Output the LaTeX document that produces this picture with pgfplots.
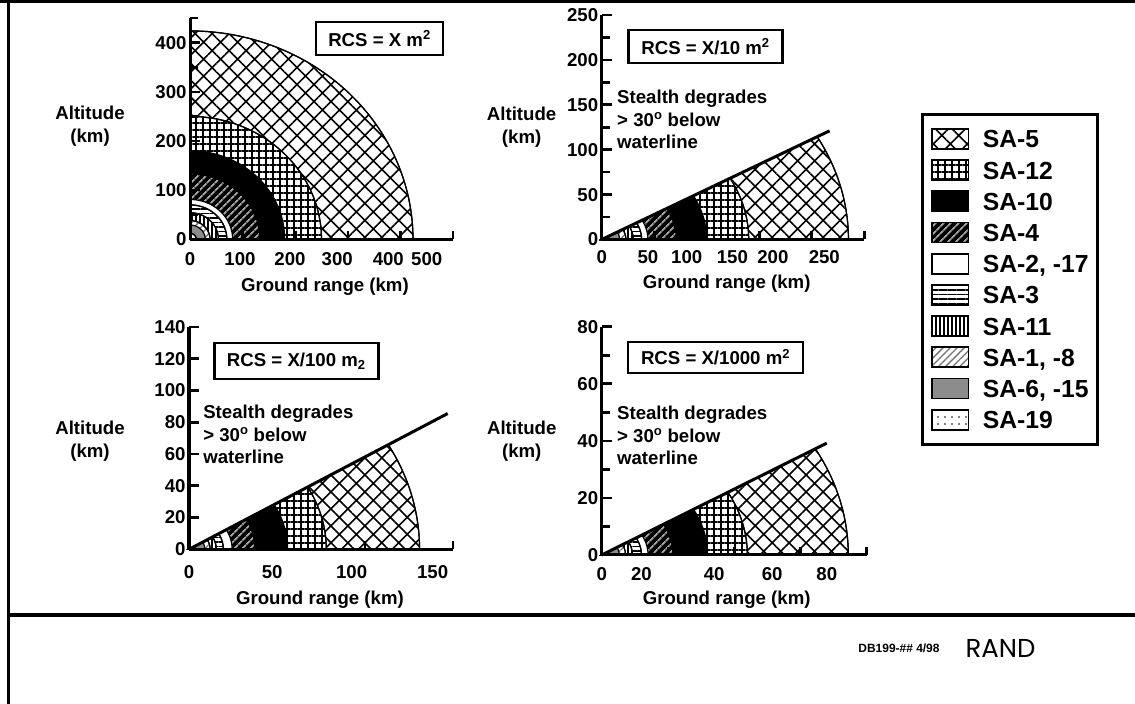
\documentclass[border=0pt]{standalone}
\usepackage{fontspec}
\setmainfont{Liberation Sans}
\newfontfamily\randfont{Poppins}
\usepackage{pgfplots}
\pgfplotsset{compat=1.18}
\usetikzlibrary{patterns.meta}

\newcommand\lblfont{\fontsize{18.7}{22.5}\selectfont\bfseries}

% fill styles of the SAM systems
\tikzset{
  sa5/.style={fill=white, postaction={pattern={Hatch[angle=45,distance=12bp,line width=1.6bp]}, pattern color=black}},
  sa12/.style={fill=white, postaction={pattern={Hatch[angle=0,distance=7bp,line width=2.8bp]}, pattern color=black}},
  sa10/.style={fill=black},
  sa4/.style={fill=black, postaction={pattern={Lines[angle=45,distance=6bp,line width=2bp]}, pattern color=black!35}},
  sa2/.style={fill=white},
  sa3/.style={fill=white, postaction={pattern={Lines[angle=0,distance=4.5bp,line width=1.5bp]}, pattern color=black}},
  sa11/.style={fill=white, postaction={pattern={Lines[angle=90,distance=4bp,line width=1.5bp]}, pattern color=black}},
  sa1/.style={fill=white, postaction={pattern={Lines[angle=45,distance=5bp,line width=1.3bp]}, pattern color=black!55}},
  sa6/.style={fill=black!45},
  sa19/.style={fill=white, postaction={pattern={Dots[distance=7bp,radius=0.9bp]}, pattern color=black}},
  rcsbox/.style={draw=black, line width=2.6bp, font=\lblfont, inner sep=0pt},
}

% coverage sector: radius, upper elevation angle, fill style
\newcommand\sector[3]{%
  \addplot[#3, draw=black, line width=1.2bp, domain=0:#2, samples=50, variable=\t]
    ({#1*cos(\t)}, {#1*sin(\t)}) -- (0,0) -- cycle;}

\pgfplotsset{
  panel/.style={
    anchor=south west, axis lines=left, axis line style={-, line width=3bp},
    axis on top, clip=false, enlargelimits=false,
    xmin=0, ymin=0,
    tick align=inside, tick style={black, line width=2.6bp},
    major tick length=10bp, minor tick length=8bp,
    major x tick style={draw=none},
    tick label style={font=\lblfont},
    /pgf/number format/assume math mode=true,
    every axis y label/.style={anchor=center, align=center, font=\lblfont},
    every axis x label/.style={anchor=center, font=\lblfont},
    xlabel={Ground range (km)}, ylabel={Altitude\\(km)},
  },
}

\begin{document}
\begin{tikzpicture}
\useasboundingbox (0bp,0bp) rectangle (1135bp,704bp);
\draw[line width=3bp] (0bp,702.6bp) -- (1135bp,702.6bp);
\draw[line width=3.3bp] (8.3bp,0bp) -- (8.3bp,704bp);
\draw[line width=3.3bp] (8.3bp,89bp) -- (1135bp,89bp);

% RCS = X
\begin{axis}[panel, at={(190bp,464.7bp)}, x=0.526bp, y=0.4915bp,
  xmax=500, ymax=450,
  xtick={0,95,190,280,377,450}, xticklabels={0,100,200,300,400,500},
  minor xtick={100,200,300,400,500},
  ytick={0,100,200,300,400}, minor ytick={50,150,250,350,450},
  xticklabel style={yshift=-10bp},
  xlabel style={at={(axis description cs:0.513,-0.216)}},
  ylabel style={at={(axis description cs:-0.380,0.512)}}]
\sector{424}{90}{sa5}
\sector{250}{90}{sa12}
\sector{180}{90}{sa10}
\sector{133}{90}{sa4}
\sector{81}{90}{sa2}
\sector{70}{90}{sa3}
\sector{54}{90}{sa11}
\sector{38}{90}{sa1}
\sector{29}{90}{sa6}
\sector{12}{90}{sa19}
\node[rcsbox, minimum width=127bp, minimum height=33bp] at (axis cs:360.3,408.5) {RCS = X m\textsuperscript{2}};
\end{axis}

% RCS = X/10
\begin{axis}[panel, at={(601.7bp,464.5bp)}, x=1.05bp, y=0.898bp,
  xmax=250, ymax=250,
  xtick={0,44,81,124.5,163,212}, xticklabels={0,50,100,150,200,250},
  minor xtick={50,100,150,200,250},
  ytick={0,50,100,150,200,250}, minor ytick={25,75,125,175,225},
  xticklabel style={yshift=-7bp},
  xlabel style={at={(axis description cs:0.476,-0.198)}},
  ylabel style={at={(axis description cs:-0.305,0.501)}},
  legend cell align=left,
  legend style={at={(1.2145,0.5640)}, anchor=north west, draw=black, line width=3bp, fill=white,
    inner xsep=8.9bp, inner ysep=13.6bp, row sep=9.4bp, column sep=13.4bp,
    font=\fontsize{24.8}{26}\selectfont\bfseries,
    nodes={inner sep=0pt, text height=18bp, text depth=0pt}},
  legend image code/.code={\draw[#1, line width=1.8bp] (0bp,-10bp) rectangle (36.7bp,10bp);}]
\sector{235}{29.14}{sa5}  \addlegendentry{SA-5}
\sector{140}{29.14}{sa12} \addlegendentry{SA-12}
\sector{100}{29.14}{sa10} \addlegendentry{SA-10}
\sector{71}{29.14}{sa4}   \addlegendentry{SA-4}
\sector{44}{29.14}{sa2}   \addlegendentry{SA-2, -17}
\sector{38}{29.14}{sa3}   \addlegendentry{SA-3}
\sector{30}{29.14}{sa11}  \addlegendentry{SA-11}
\sector{23}{29.14}{sa1}   \addlegendentry{SA-1, -8}
\sector{17}{29.14}{sa6}   \addlegendentry{SA-6, -15}
\sector{7}{29.14}{sa19}   \addlegendentry{SA-19}
\addplot[forget plot, black, line width=3bp] coordinates {(0,0) (217,121)};
\node[rcsbox, minimum width=154bp, minimum height=33bp] at (axis cs:98.9,214.7) {RCS = X/10 m\textsuperscript{2}};
\node[anchor=north west, align=left, inner sep=0pt, font=\lblfont] at (axis cs:14.6,166.5)
  {Stealth degrades\\> 30\textsuperscript{o} below\\waterline};
\end{axis}

% RCS = X/100
\begin{axis}[panel, at={(189bp,154.7bp)}, x=1.76bp, y=1.588bp,
  xmax=150, ymax=140,
  xtick={0,47.3,92.4,138.4}, xticklabels={0,50,100,150},
  minor xtick={50,100,150},
  ytick={0,20,40,60,80,100,120,140},
  xticklabel style={yshift=-13bp},
  xlabel style={at={(axis description cs:0.496,-0.227)}},
  ylabel style={at={(axis description cs:-0.375,0.487)}}]
\sector{131}{30.18}{sa5}
\sector{78}{30.18}{sa12}
\sector{56}{30.18}{sa10}
\sector{37.5}{30.18}{sa4}
\sector{24.5}{30.18}{sa2}
\sector{19.5}{30.18}{sa3}
\sector{15.5}{30.18}{sa11}
\sector{12}{30.18}{sa1}
\sector{9}{30.18}{sa6}
\sector{3.5}{30.18}{sa19}
\addplot[black, line width=3bp] coordinates {(0,0) (147,85.5)};
\node[rcsbox, minimum width=164bp, minimum height=36bp] at (axis cs:61,118.5) {RCS = X/100 m\textsubscript{2}};
\node[anchor=north west, align=left, inner sep=0pt, font=\lblfont] at (axis cs:8,90.9)
  {Stealth degrades\\> 30\textsuperscript{o} below\\waterline};
\end{axis}

% RCS = X/1000
\begin{axis}[panel, at={(601.7bp,149bp)}, x=3.31bp, y=2.854bp,
  xmax=80, ymax=80,
  xtick={0,12,34,51.5,68}, xticklabels={0,20,40,60,80},
  minor xtick={20,40,60,80},
  ytick={0,20,40,60,80}, minor ytick={10,30,50,70},
  xticklabel style={yshift=-9bp},
  xlabel style={at={(axis description cs:0.472,-0.197)}},
  ylabel style={at={(axis description cs:-0.302,0.499)}}]
\sector{74.5}{29.96}{sa5}
\sector{44}{29.96}{sa12}
\sector{32}{29.96}{sa10}
\sector{21.5}{29.96}{sa4}
\sector{14}{29.96}{sa2}
\sector{12}{29.96}{sa3}
\sector{9.3}{29.96}{sa11}
\sector{7.2}{29.96}{sa1}
\sector{5.3}{29.96}{sa6}
\sector{2.1}{29.96}{sa19}
\addplot[black, line width=3bp] coordinates {(0,0) (68,39.2)};
\node[rcsbox, minimum width=175bp, minimum height=31bp] at (axis cs:34.4,69.2) {RCS = X/1000 m\textsuperscript{2}};
\node[anchor=north west, align=left, inner sep=0pt, font=\lblfont] at (axis cs:4.6,52.2)
  {Stealth degrades\\> 30\textsuperscript{o} below\\waterline};
\end{axis}

\node[font=\fontsize{12}{12}\selectfont\bfseries] at (899bp,56bp) {DB199-\#\# 4/98};
\node[font=\randfont\fontsize{26}{26}\selectfont] at (1000.5bp,56bp) {RAND};
\end{tikzpicture}
\end{document}
